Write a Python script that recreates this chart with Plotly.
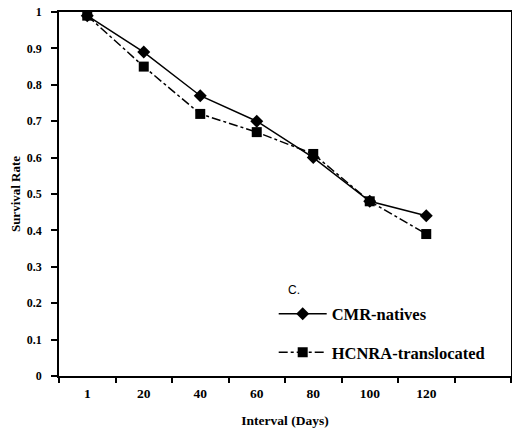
import plotly.graph_objects as go

intervals = ["1", "20", "40", "60", "80", "100", "120"]
cmr_natives = [0.99, 0.89, 0.77, 0.70, 0.60, 0.48, 0.44]
hcnra_translocated = [0.99, 0.85, 0.72, 0.67, 0.61, 0.48, 0.39]
y_ticks = [0, 0.1, 0.2, 0.3, 0.4, 0.5, 0.6, 0.7, 0.8, 0.9, 1]

xpos = list(range(len(intervals)))
font = "Liberation Serif"

fig = go.Figure()
fig.add_trace(go.Scatter(
    x=xpos, y=cmr_natives, name="<b>CMR-natives</b>", mode="lines+markers",
    legendgroup="a",
    line=dict(color="black", width=1.5),
    marker=dict(symbol="diamond", size=10, color="black")))
fig.add_trace(go.Scatter(
    x=xpos, y=hcnra_translocated, name="<b>HCNRA-translocated</b>", mode="lines+markers",
    legendgroup="b",
    line=dict(color="black", width=1.5, dash="dashdot"),
    marker=dict(symbol="square", size=10, color="black")))

fig.update_layout(
    width=512, height=431, autosize=False,
    margin=dict(l=59, r=1, t=12, b=55),
    paper_bgcolor="white", plot_bgcolor="white",
    font=dict(family=font, size=13, color="black"),
    showlegend=True,
    legend=dict(x=0.475, y=0.118, xanchor="left", yanchor="middle",
                bgcolor="rgba(0,0,0,0)", font=dict(family=font, size=16.5),
                traceorder="grouped", tracegroupgap=14, itemwidth=48),
    annotations=[dict(x=0.502, y=0.236, xref="paper", yref="paper", text="C.",
                      showarrow=False, font=dict(family="Liberation Sans", size=12),
                      xanchor="left", yanchor="middle")],
)
fig.update_xaxes(
    range=[-0.5, 7.5], tickmode="array", tickvals=xpos,
    ticktext=["<b>%s</b>" % t for t in intervals], ticks="",
    tickfont=dict(family=font, size=13.5),
    showline=True, linecolor="black", linewidth=1.5, mirror=True,
    showgrid=False, zeroline=False, automargin=False,
    minor=dict(tickmode="linear", tick0=-0.5, dtick=1, ticks="outside",
               ticklen=5, tickwidth=1.5, tickcolor="black", showgrid=False),
    ticklabelstandoff=4,
    title=dict(text="<b>Interval (Days)</b>", font=dict(family=font, size=13.5), standoff=16),
)
fig.update_yaxes(
    range=[0, 1], tickmode="array", tickvals=y_ticks,
    ticktext=["<b>%g</b>" % v for v in y_ticks],
    tickfont=dict(family=font, size=12),
    ticks="outside", ticklen=6, tickwidth=1.5, tickcolor="black",
    showline=True, linecolor="black", linewidth=1.5, mirror=True,
    showgrid=False, zeroline=False, automargin=False,
    ticklabelstandoff=7,
    title=dict(text="<b>Survival Rate</b>", font=dict(family=font, size=13), standoff=3),
)

fig.write_html("out.html", config={"responsive": False, "displayModeBar": False},
               post_script="document.body.style.margin='0';document.body.style.overflow='hidden';")
